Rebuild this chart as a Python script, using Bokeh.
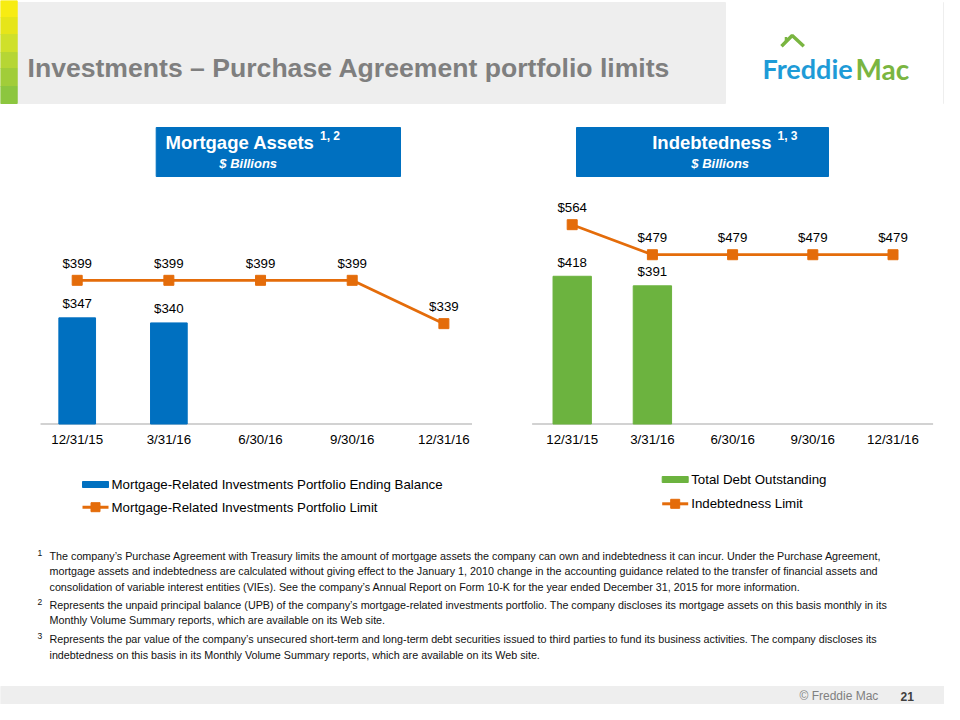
from bokeh.plotting import figure
from bokeh.models import Range1d
from bokeh.layouts import column, row
from bokeh.core.properties import value
from bokeh.embed import file_html
from bokeh.resources import INLINE

# ---------------- data ----------------
title_text = "Investments \u2013 Purchase Agreement portfolio limits"
dates = ["12/31/15", "3/31/16", "6/30/16", "9/30/16", "12/31/16"]
mortgage_balance = [347, 340]            # only first two quarters reported
mortgage_limit = [399, 399, 399, 399, 339]
debt_outstanding = [418, 391]
debt_limit = [564, 479, 479, 479, 479]

left_header = "Mortgage Assets"
left_sup = "1, 2"
right_header = "Indebtedness"
right_sup = "1, 3"
units_text = "$ Billions"
left_legend = ["Mortgage-Related Investments Portfolio Ending Balance",
               "Mortgage-Related Investments Portfolio Limit"]
right_legend = ["Total Debt Outstanding", "Indebtedness Limit"]

note1 = ["The company\u2019s Purchase Agreement with Treasury limits the amount of mortgage assets the company can own and indebtedness it can incur.  Under the Purchase Agreement,",
         "mortgage assets and indebtedness are calculated without giving effect to the January 1, 2010 change in the accounting guidance related to the transfer of financial assets and",
         "consolidation of variable interest entities (VIEs).  See the company\u2019s Annual Report on Form 10-K for the year ended December 31, 2015 for more information."]
note2 = ["Represents the unpaid principal balance (UPB) of the company\u2019s mortgage-related investments portfolio.  The company discloses its mortgage assets on this basis monthly in its",
         "Monthly Volume Summary reports, which are available on its Web site."]
note3 = ["Represents the par value of the company\u2019s unsecured short-term and long-term debt securities issued to third parties to fund its business activities.  The company discloses its",
         "indebtedness on this basis in its Monthly Volume Summary reports, which are available on its Web site."]
note_marks = ["1", "2", "3"]
footer_text = "\u00a9 Freddie Mac"
page_number = "21"

# ---------------- style ----------------
FONT = value("Liberation Sans")
BLUE = "#0070c0"
GREEN = "#6cb33f"
ORANGE = "#e46c0a"
GRAYBAND = "#eeeeee"
W = 944
H_HEAD, H_CHART, H_NOTES = 110, 420, 174


def blank(w, h, xr, yr):
    p = figure(width=w, height=h, x_range=xr, y_range=yr, output_backend="svg",
               toolbar_location=None, min_border=0, x_axis_type=None, y_axis_type=None,
               outline_line_color=None, background_fill_color="white",
               border_fill_color="white")
    p.grid.visible = False
    return p


# ---------------- header ----------------
head = blank(W, H_HEAD, Range1d(0, W), Range1d(H_HEAD, 0))
head.quad(left=16.7, right=725, top=2, bottom=103, color=GRAYBAND)
head.quad(left=943, right=W + 2, top=2, bottom=103, color=GRAYBAND)
stripe_cols = ["#f7ec13", "#e6e519", "#cfe02a", "#b6d634", "#a1cd39", "#8cc63f"]
edges = [0, 17, 34, 52, 68, 86, 103]
head.quad(left=[0] * 6, right=[16.7] * 6, top=edges[:-1], bottom=edges[1:], color=stripe_cols)
head.text(x=[27], y=[67], text=[title_text], text_font=FONT, text_font_size="26.6px",
          text_font_style="bold", text_color="#7f7f7f", text_baseline="alphabetic")
# logo
head.line(x=[781, 791.7, 803.3], y=[45.7, 35, 45.7], color="#7ab541", line_width=3.5)
head.line(x=[785.5, 785.5], y=[41.5, 36.5], color="#7ab541", line_width=2.5)
head.text(x=[762], y=[68], text=["Freddie"], text_font=value("Lato"), text_font_size="27px",
          text_font_style="bold", text_color="#1e9bd7", text_baseline="alphabetic")
head.text(x=[855], y=[68], text=["Mac"], text_font=value("Lato"), text_font_size="28px",
          text_font_style="bold", text_color="#7ab541", text_baseline="alphabetic")


# ---------------- charts ----------------
def chart(bar_vals, line_vals, bar_color, y_min, px_unit, cat_px, first_px, bar_w, axis_span,
          header, sup, head_x, sup_x, box, legend_labels, leg_x, leg_ys):
    base_px = 106.5
    ys = y_min - base_px / px_unit
    ye = ys + H_CHART / px_unit
    xs = -first_px / cat_px
    xe = xs + 472 / cat_px
    p = blank(472, H_CHART, Range1d(xs, xe), Range1d(ys, ye))
    p.extra_x_ranges = {"px": Range1d(0, 472)}
    p.extra_y_ranges = {"px": Range1d(H_CHART, 0)}
    idx = list(range(len(dates)))
    bidx = idx[:len(bar_vals)]
    # axis line + category labels
    p.segment(x0=[axis_span[0]], y0=[y_min], x1=[axis_span[1]], y1=[y_min],
              color="#a6a6a6", line_width=1.2)
    p.text(x=idx, y=[y_min] * len(idx), text=dates, text_font=FONT, text_font_size="13.3px",
           text_color="#000000", text_align="center", text_baseline="middle", y_offset=15)
    # bars
    p.vbar(x=bidx, top=bar_vals, bottom=y_min, width=bar_w, color=bar_color)
    p.text(x=bidx, y=bar_vals, text=[f"${v}" for v in bar_vals], text_font=FONT,
           text_font_size="13.3px", text_color="#000000", text_align="center",
           text_baseline="middle", y_offset=-14)
    # limit line
    p.line(x=idx, y=line_vals, color=ORANGE, line_width=2.75)
    p.scatter(x=idx, y=line_vals, marker="square", size=10, color=ORANGE)
    p.text(x=idx, y=line_vals, text=[f"${v}" for v in line_vals], text_font=FONT,
           text_font_size="13.3px", text_color="#000000", text_align="center",
           text_baseline="middle", y_offset=-17)
    # header box
    p.quad(left=box[0], right=box[1], top=17, bottom=66, color=BLUE,
           x_range_name="px", y_range_name="px")
    p.text(x=[head_x], y=[31.7], text=[header], text_font=FONT, text_font_size="18.5px",
           text_font_style="bold", text_color="white", text_baseline="middle",
           x_range_name="px", y_range_name="px")
    p.text(x=[sup_x], y=[25.7], text=[sup], text_font=FONT, text_font_size="12px",
           text_font_style="bold", text_color="white", text_baseline="middle",
           x_range_name="px", y_range_name="px")
    p.text(x=[247.7], y=[53.3], text=[units_text], text_font=FONT, text_font_size="13px",
           text_font_style="bold italic", text_color="white", text_baseline="middle",
           text_align="center", x_range_name="px", y_range_name="px")
    # legend
    p.quad(left=leg_x, right=leg_x + 26, top=leg_ys[0] - 3, bottom=leg_ys[0] + 3,
           color=bar_color, x_range_name="px", y_range_name="px")
    p.segment(x0=[leg_x], y0=[leg_ys[1]], x1=[leg_x + 26], y1=[leg_ys[1]], color=ORANGE,
              line_width=3, x_range_name="px", y_range_name="px")
    p.scatter(x=[leg_x + 13], y=[leg_ys[1]], marker="square", size=9, color=ORANGE,
              x_range_name="px", y_range_name="px")
    p.text(x=[leg_x + 29] * 2, y=leg_ys, text=legend_labels, text_font=FONT,
           text_font_size="13.3px", text_color="#000000", text_baseline="middle",
           x_range_name="px", y_range_name="px")
    return p


left = chart(mortgage_balance, mortgage_limit, BLUE, 200, 0.722, 91.67, 76.7, 0.40,
             (-0.4, 4.4), left_header, left_sup, 165, 319.5, (155.7, 400),
             left_legend, 82, (374, 396.7))
right = chart(debt_outstanding, debt_limit, GREEN, 0, 0.3534, 80.2, 99.7, 0.478,
              (-0.5, 4.5), right_header, right_sup, 179.7, 305, (104, 356),
              right_legend, 189.7, (369, 393.3))

# ---------------- notes + footer ----------------
notes = blank(W, H_NOTES, Range1d(0, W), Range1d(H_NOTES, 0))
starts = [25, 74, 108.5]
for mark, lines, y0 in zip(note_marks, [note1, note2, note3], starts):
    ys = [y0 + 15.5 * i for i in range(len(lines))]
    notes.text(x=[49] * len(lines), y=ys, text=lines, text_font=FONT, text_font_size="10.75px",
               text_color="#111111", text_baseline="middle")
    notes.text(x=[37], y=[y0 - 3], text=[mark], text_font=FONT, text_font_size="8.5px",
               text_color="#111111", text_baseline="middle")
notes.quad(left=0, right=W, top=156, bottom=H_NOTES + 5, color=GRAYBAND)
notes.text(x=[799], y=[165.5], text=[footer_text], text_font=FONT, text_font_size="12px",
           text_color="#808080", text_baseline="middle")
notes.text(x=[900], y=[165.5], text=[page_number], text_font=FONT, text_font_size="12px",
           text_font_style="bold", text_color="#404040", text_baseline="middle")

layout = column(head, row(left, right, spacing=0), notes, spacing=0)
open("out.html", "w").write(file_html(layout, INLINE))
